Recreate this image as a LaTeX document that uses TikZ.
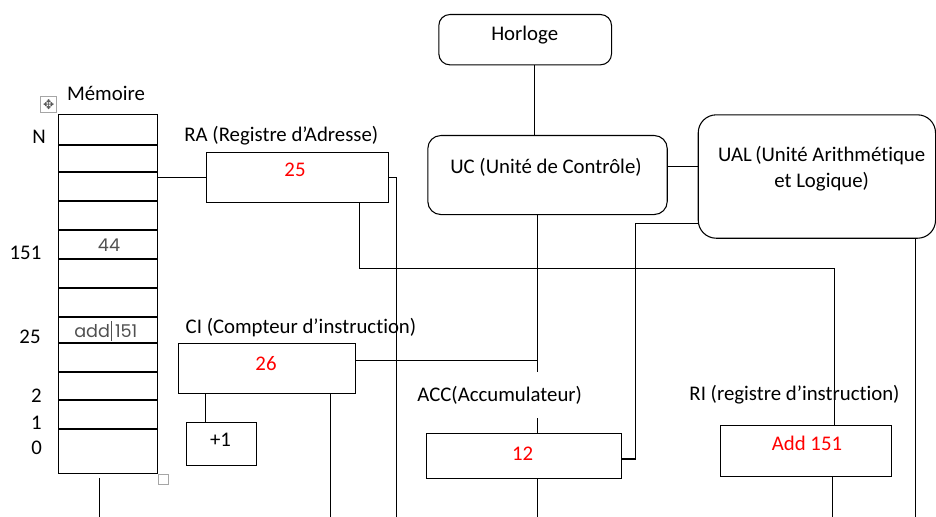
\documentclass[tikz,border=0pt]{standalone}
\usepackage{fontspec}
\setmainfont{Carlito}[Ligatures=NoCommon]
\newfontfamily\cellfont{Poppins}
\newfontfamily\symfont{DejaVu Sans}
\usetikzlibrary{calc}
\definecolor{valred}{HTML}{FF0000}
\definecolor{handlegray}{HTML}{A6A6A6}
\definecolor{celltext}{HTML}{505050}

\begin{document}
\begin{tikzpicture}[
  x=0.75pt, y=-0.75pt,
  line width=0.8pt,
  font=\fontsize{15.6}{18.5}\selectfont,
  size/.style 2 args={minimum width=#1*0.75pt, minimum height=#2*0.75pt},
  reg/.style={draw, rectangle, anchor=north west, inner sep=0pt},
  unitbox/.style={reg, rounded corners=#1*0.75pt},
  val/.style={text=valred, inner sep=0pt},
  caption/.style={inner sep=0pt},
  cell/.style={font=\cellfont\fontsize{13.2}{15}\selectfont, text=celltext, inner sep=0pt},
  addr/.style={inner sep=0pt},
]
\useasboundingbox (0,0) rectangle (936,517);
\coordinate (bot) at (0,517);

% ---------- memory table ----------
\node[reg, size={99}{359}] (mem) at (58.3,114) {};
\foreach \yy in {145,172,201,230,259,288,317,343,372,400,429}
  \draw (58.3,\yy) -- (157.3,\yy);
\node[caption] (memtitle) at (106,93) {Mémoire};
\node[cell] (c44) at (109,245.5) {44};
\node[cell, anchor=east] (cadd) at (110.5,331.5) {add};
\node[cell, anchor=west] (c151) at (114.5,331.5) {151};
\draw[line width=0.5pt, celltext] (111.5,321) -- (111.5,341);

% table handles
\node[draw=handlegray, line width=0.6pt, minimum size=16*0.75pt, inner sep=0pt,
      text=black!65, font=\symfont\fontsize{10}{10}\selectfont] (movehandle) at (48.7,104.7) {✥};
\node[draw=handlegray, line width=0.6pt, minimum size=10*0.75pt, inner sep=0pt] (sizehandle) at (163.7,479.2) {};

% addresses
\node[addr] (aN)   at (39,137)  {N};
\node[addr] (a151) at (25.5,252.7) {151};
\node[addr] (a25)  at (30,336.7) {25};
\node[addr] (a2)   at (36.5,396) {2};
\node[addr] (a1)   at (36.3,423) {1};
\node[addr] (a0)   at (36.7,448.3) {0};

% ---------- registers and units ----------
\node[reg, size={182}{50.6}] (RA) at (205.7,151.7) {};
\node[caption] (RAlabel) at (281.3,136) {RA (Registre d’Adresse)};
\node[val] (RAval) at (295,170) {25};

\node[unitbox=11, size={172.7}{50.3}] (H) at (438.3,14) {};
\node[caption] (Htext) at (524.7,35) {Horloge};

\node[unitbox=13, size={239.4}{79}] (UC) at (427.3,135) {};
\node[caption] (UCtext) at (546,167) {UC (Unité de Contrôle)};

\node[unitbox=18, size={237.3}{123.4}] (UAL) at (697.7,114.3) {};
\node[caption, align=center] (UALtext) at (821.7,169) {UAL\,(Unité Arithmétique\\[1pt]et Logique)};

\node[reg, size={176.7}{49.4}] (CI) at (178,343.3) {};
\node[caption] (CIlabel) at (301,327.3) {CI (Compteur d’instruction)};
\node[val] (CIval) at (266,363.3) {26};

\node[reg, size={69.7}{42.7}] (inc) at (186,422) {};
\node[caption] (inctext) at (220.5,440) {+1};

\node[reg, size={194.7}{44.7}] (ACC) at (426,433.3) {};
\node[val] (ACCval) at (522.7,453.3) {12};

\node[reg, size={171}{50.7}] (RI) at (720,425) {};
\node[val] (RIval) at (807,443.3) {Add 151};

% ---------- taps on the boxes ----------
\coordinate (raTap)  at ($(RA.south west)!0.8407!(RA.south east)$);
\coordinate (riTop)  at ($(RI.north west)!0.6667!(RI.north east)$);
\coordinate (riBot)  at ($(RI.south west)!0.6532!(RI.south east)$);
\coordinate (hTap)   at ($(H.south west)!0.554!(H.south east)$);
\coordinate (ucTap)  at ($(UC.south west)!0.4577!(UC.south east)$);
\coordinate (ucSide) at ($(UC.north east)!0.389!(UC.south east)$);
\coordinate (ciSide) at ($(CI.north east)!0.338!(CI.south east)$);
\coordinate (ciTap)  at ($(CI.south west)!0.860!(CI.south east)$);
\coordinate (ciInc)  at ($(CI.south west)!0.157!(CI.south east)$);
\coordinate (accSide) at ($(ACC.north east)!0.561!(ACC.south east)$);
\coordinate (ualSide) at ($(UAL.north west)!0.875!(UAL.south west)$);
\coordinate (ualTap) at ($(UAL.south west)!0.913!(UAL.south east)$);
\coordinate (memTap) at ($(mem.south west)!0.415!(mem.south east)+(0,3.7)$);
\coordinate (busA)   at (0,268.7);
\coordinate (accBend) at (635.5,0);
\coordinate (raBend) at (396.7,0);

% ---------- connectors ----------
\draw (RA.west) -- (RA.west -| mem.east);
\draw (RA.east) -- (RA.east -| raBend) -- (raBend |- bot);
\draw (raTap) |- (busA -| riTop) -- (riTop);
\draw (hTap) -- (hTap |- UC.north);
\draw (ucSide) -- (ucSide -| UAL.west);
\draw (ucTap) -- (ucTap |- ACC.north);
\draw (ciSide) -- (ciSide -| ucTap);
\draw (ciInc) -- (ciInc |- inc.north);
\draw (ciTap) -- (ciTap |- bot);
\draw (accSide) -- (accSide -| accBend) |- (ualSide);
\draw (ucTap |- ACC.south) -- (ucTap |- bot);
\draw (riBot) -- (riBot |- bot);
\draw (ualTap) -- (ualTap |- bot);
\draw (memTap) -- (memTap |- bot);

% labels drawn over the lines
\node[caption, fill=white, inner xsep=3pt, inner ysep=10.5pt] (ACClabel) at (499.7,395) {ACC(Accumulateur)};
\node[caption] (RIlabel) at (794.5,395) {RI (registre d’instruction)};
\end{tikzpicture}
\end{document}
